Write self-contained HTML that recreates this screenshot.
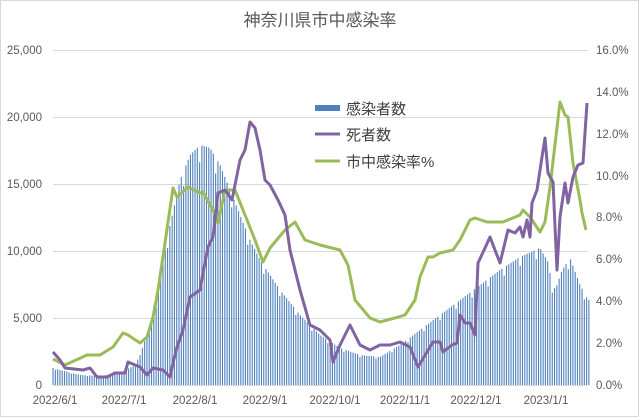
<!DOCTYPE html>
<html><head><meta charset="utf-8"><style>
html,body{margin:0;padding:0;background:#fff}
svg{display:block}
text{font-family:"Liberation Sans","Noto Sans CJK JP",sans-serif;fill:#595959}
</style></head><body>
<svg id="s" width="639" height="417" viewBox="0 0 639 417">
<rect x="0.5" y="0.5" width="638" height="416" fill="#fff" stroke="#d9d9d9"/>
<text x="320" y="26" font-size="17" text-anchor="middle">神奈川県市中感染率</text>
<g stroke="#d9d9d9" stroke-width="1">
<line x1="53" x2="588" y1="50.5" y2="50.5"/><line x1="53" x2="588" y1="117.5" y2="117.5"/>
<line x1="53" x2="588" y1="184.5" y2="184.5"/><line x1="53" x2="588" y1="251.5" y2="251.5"/>
<line x1="53" x2="588" y1="318.5" y2="318.5"/><line x1="53" x2="588" y1="385.5" y2="385.5"/>
</g>
<g font-size="11.5" text-anchor="end">
<text x="42" y="54">25,000</text><text x="42" y="121">20,000</text><text x="42" y="188">15,000</text>
<text x="42" y="255">10,000</text><text x="42" y="322">5,000</text><text x="42" y="389">0</text>
</g>
<g font-size="11.5" text-anchor="start">
<text x="596" y="54">16.0%</text><text x="596" y="96">14.0%</text><text x="596" y="138">12.0%</text>
<text x="596" y="180">10.0%</text><text x="596" y="221">8.0%</text><text x="596" y="263">6.0%</text>
<text x="596" y="305">4.0%</text><text x="596" y="347">2.0%</text><text x="596" y="389">0.0%</text>
</g>
<g font-size="11.5" text-anchor="middle">
<text x="55" y="404">2022/6/1</text><text x="124" y="404">2022/7/1</text><text x="195" y="404">2022/8/1</text>
<text x="265" y="404">2022/9/1</text><text x="335" y="404">2022/10/1</text><text x="405" y="404">2022/11/1</text>
<text x="476" y="404">2022/12/1</text><text x="546" y="404">2023/1/1</text>
</g>
<g id="bars" fill="#4f81bd"></g>
<polyline id="g" fill="none" stroke="#9bbb59" stroke-width="3" stroke-linejoin="round"/>
<polyline id="p" fill="none" stroke="#8064a2" stroke-width="3" stroke-linejoin="round"/>
<rect x="315" y="105" width="25" height="6" fill="#4f81bd"/>
<line x1="315" x2="340" y1="134" y2="134" stroke="#8064a2" stroke-width="3"/>
<line x1="315" x2="340" y1="161" y2="161" stroke="#9bbb59" stroke-width="3"/>
<g font-size="15"><text x="346" y="114" style="fill:#404040">感染者数</text><text x="346" y="140" style="fill:#404040">死者数</text><text x="346" y="167" style="fill:#404040">市中感染率%</text></g>
</svg>
<script>
function interp(pts,x){for(var i=0;i<pts.length-1;i++){if(x>=pts[i][0]&&x<=pts[i+1][0]){var t=(x-pts[i][0])/(pts[i+1][0]-pts[i][0]);return pts[i][1]+t*(pts[i+1][1]-pts[i][1]);}}return pts[pts.length-1][1];}
var B=[[53,368],[60,370],[80,375],[100,376],[120,373],[135,365],[140,355],[150,325],[160,275],[170,225],[180,180],[190,155],[200,145],[210,148],[220,165],[230,190],[240,215],[250,240],[260,260],[280,290],[300,315],[320,335],[340,348],[360,355],[380,357],[400,345],[420,330],[440,315],[460,300],[480,285],[500,270],[520,257],[540,248],[548,262],[553,290],[557,285],[562,270],[570,258],[580,285],[588,300]];
var s="";for(var d=0;d<235;d++){var x=53+d*2.29;var y=interp(B,x);var h=385-y;if(d%7==1)h*=0.93;s+='<rect x="'+(x-0.5).toFixed(2)+'" y="'+(385-h).toFixed(1)+'" width="1.1" height="'+h.toFixed(1)+'"/>';}
document.getElementById('bars').innerHTML=s;
var G=[[53,359],[65,365],[87,355],[100,355],[113,347],[123,333],[128,335],[140,343],[147,337],[153,317],[158,290],[165,243],[173,188],[177,197],[188,187],[200,193],[203,192],[213,210],[218,223],[225,190],[235,190],[245,215],[255,240],[263,262],[270,248],[285,230],[295,222],[305,240],[320,245],[340,250],[348,265],[355,300],[370,318],[380,322],[395,318],[405,315],[415,300],[420,277],[428,257],[433,257],[440,253],[453,250],[460,240],[470,220],[475,218],[487,222],[503,222],[520,215],[523,210],[530,217],[540,232],[545,222],[550,187],[560,102],[565,115],[568,117],[573,163],[580,200],[582,213],[586,230]];
var P=[[53,352],[60,360],[65,368],[83,370],[90,368],[97,377],[107,377],[115,373],[125,373],[128,362],[140,367],[147,375],[153,368],[163,370],[170,377],[173,363],[177,347],[183,330],[190,297],[200,290],[203,273],[208,247],[213,237],[218,193],[225,190],[232,200],[240,160],[245,150],[250,122],[255,128],[260,150],[265,180],[270,185],[278,200],[285,215],[290,250],[295,270],[300,290],[310,325],[320,330],[330,340],[333,362],[340,345],[350,325],[360,345],[370,350],[380,345],[390,345],[400,342],[410,347],[418,367],[427,352],[433,342],[440,342],[443,352],[452,345],[457,343],[460,315],[465,323],[470,323],[475,335],[478,263],[485,248],[490,237],[495,250],[500,263],[508,230],[515,233],[520,227],[523,237],[527,220],[530,237],[532,203],[537,190],[542,157],[545,138],[548,173],[553,182],[557,270],[560,217],[565,183],[568,203],[573,177],[578,165],[583,163],[587,103]];
function pl(a){return a.map(function(p){return p[0]+','+p[1]}).join(' ')}
document.getElementById('g').setAttribute('points',pl(G));
document.getElementById('p').setAttribute('points',pl(P));
</script>
</body></html>
